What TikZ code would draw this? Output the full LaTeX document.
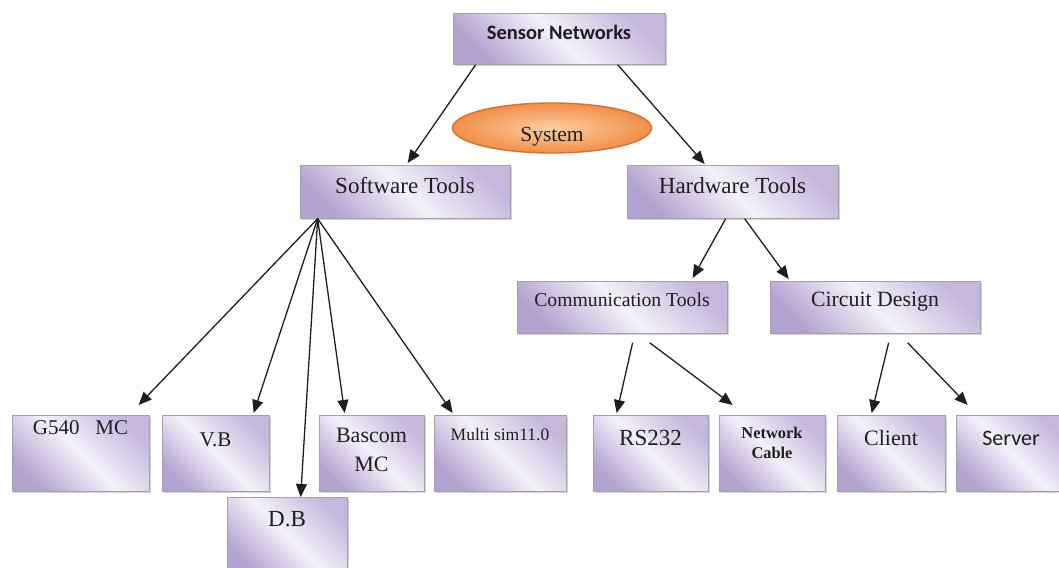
\documentclass[tikz,border=0pt]{standalone}
\usepackage{fontspec}
\setmainfont{Liberation Serif}
\setsansfont{Carlito}
\usetikzlibrary{arrows.meta,shapes,shadows,positioning}
\definecolor{boxdark}{RGB}{180,162,208}
\definecolor{boxlight}{RGB}{244,241,249}
\definecolor{boxtop}{RGB}{198,184,221}
\definecolor{boxedge}{RGB}{165,160,172}
\definecolor{textdark}{RGB}{30,30,34}
\definecolor{sysin}{RGB}{252,206,162}
\definecolor{sysout}{RGB}{241,142,72}
\definecolor{sysedge}{RGB}{214,112,46}
\newcommand{\sizeto}[2]{\fontsize{#1}{#2}\selectfont}

\begin{document}
\begin{tikzpicture}[x=1pt,y=-1pt,
                    toolbox/.style={draw=boxedge, line width=0.7pt, anchor=north,
                        drop shadow={shadow xshift=1.5pt, shadow yshift=-2pt, opacity=0.35},
                        left color=boxdark, right color=boxtop, middle color=boxlight,
                        shading angle=135, text=textdark},
                    system/.style={ellipse, draw=sysedge, line width=1.4pt,
                        inner color=sysin, outer color=sysout,
                        minimum width=199pt, minimum height=50pt, text=textdark},
                    link/.style={draw=textdark, line width=1.3pt,
                        -{Triangle[length=13pt,width=11pt]}}]
                    \tikzstyle{every node}+=[inner sep=0pt]
                    \useasboundingbox (0,0) rectangle (1059,567);
                    \node [toolbox, font=\sffamily\bfseries\sizeto{20.5}{22}, minimum width=212pt,
                        text height=26pt, text depth=25pt] (sensor) at (559,13) {Sensor Networks};
                    \node [system, font=\sizeto{21.5}{23}, text height=30pt, text depth=4pt]
                        (sys) at (552,128) {System};
                    \node [toolbox, font=\sizeto{23}{25}, minimum width=210pt,
                        text height=28pt, text depth=25pt] (soft) at (405,165) {Software Tools};
                    \node [toolbox, font=\sizeto{23}{25}, minimum width=211pt,
                        text height=28pt, text depth=25pt] (hard) at (732.5,165) {Hardware Tools};
                    \node [toolbox, font=\sizeto{19.7}{22}, minimum width=210pt,
                        text height=25pt, text depth=27pt] (comm) at (622,281) {Communication Tools};
                    \node [toolbox, font=\sizeto{21.8}{24}, minimum width=210pt,
                        text height=25pt, text depth=27pt] (circ) at (875,281) {Circuit Design};
                    \node [toolbox, font=\sizeto{21}{23}, minimum width=137pt,
                        text height=19pt, text depth=57pt] (g540) at (80.5,415) {G540~~~MC};
                    \node [toolbox, font=\sizeto{21}{23}, minimum width=107pt,
                        text height=31pt, text depth=45pt] (vb) at (215.5,415) {V.B};
                    \node [toolbox, font=\sizeto{23}{25}, minimum width=120pt,
                        text height=29pt, text depth=47pt] (db) at (287,497) {D.B};
                    \node [toolbox, font=\sizeto{22}{29}, align=center, minimum width=105pt,
                        text height=56pt, text depth=20pt] (bascom) at (371.5,415) {Bascom\\MC};
                    \node [toolbox, font=\sizeto{17.5}{20}, minimum width=132pt,
                        text height=25pt, text depth=51pt] (multi) at (500,415) {Multi sim11.0};
                    \node [toolbox, font=\sizeto{23}{25}, minimum width=115pt,
                        text height=30pt, text depth=46pt] (rs) at (650.5,415) {RS232};
                    \node [toolbox, font=\bfseries\sizeto{16.4}{20}, align=center, minimum width=106pt,
                        text height=43pt, text depth=33pt] (net) at (772,415) {Network\\Cable};
                    \node [toolbox, font=\sizeto{22}{24}, minimum width=108pt,
                        text height=30pt, text depth=46pt] (client) at (891,415) {Client};
                    \node [toolbox, font=\sffamily\sizeto{22}{24}, minimum width=110pt,
                        text height=30pt, text depth=46pt] (server) at (1011,415) {Server};
                    \coordinate (softhub) at ([xshift=18pt]soft.south west);
                    \draw [link] ([xshift=23pt]sensor.south west) -- ([xshift=108pt,yshift=2pt]soft.north west);
                    \draw [link] ([xshift=165pt]sensor.south west) -- ([xshift=78pt,yshift=1pt]hard.north west);
                    \draw [link] (softhub) -- ([xshift=127pt,yshift=10pt]g540.north west);
                    \draw [link] (softhub) -- ([xshift=92pt,yshift=2pt]vb.north west);
                    \draw [link] (softhub) -- ([xshift=74pt]db.north west);
                    \draw [link] (softhub) -- ([xshift=26pt,yshift=2pt]bascom.north west);
                    \draw [link] (softhub) -- ([xshift=19pt,yshift=2pt]multi.north west);
                    \draw [link] ([xshift=99pt]hard.south west) -- ([xshift=176pt,yshift=3pt]comm.north west);
                    \draw [link] ([xshift=118pt]hard.south west) -- ([xshift=19pt,yshift=2pt]circ.north west);
                    \draw [link] ([xshift=116pt,yshift=-9pt]comm.south west) -- ([xshift=24pt,yshift=2pt]rs.north west);
                    \draw [link] ([xshift=133pt,yshift=-9pt]comm.south west) -- ([xshift=14pt,yshift=10pt]net.north west);
                    \draw [link] ([xshift=119pt,yshift=-9pt]circ.south west) -- ([xshift=35pt,yshift=2pt]client.north west);
                    \draw [link] ([xshift=138pt,yshift=-9pt]circ.south west) -- ([xshift=12pt,yshift=10pt]server.north west);
                \end{tikzpicture}
\end{document}
